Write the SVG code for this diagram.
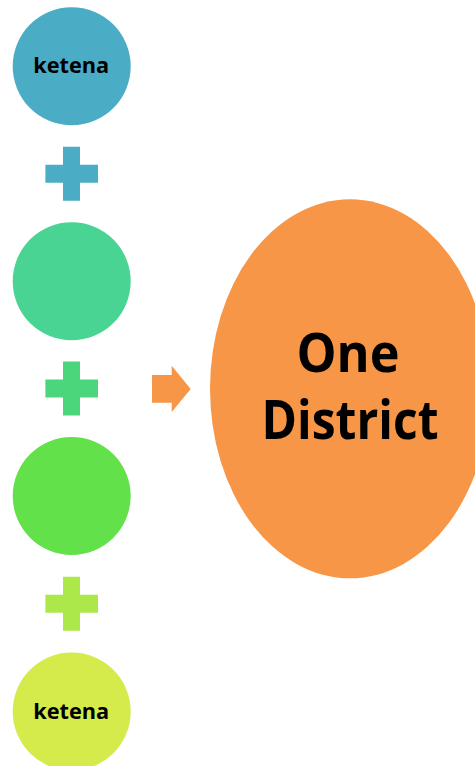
<svg xmlns="http://www.w3.org/2000/svg" width="475" height="766" viewBox="0 0 475 766">
<style>
.lbl{font-family:"Open Sans","Liberation Sans",sans-serif;font-weight:bold;fill:#000;text-anchor:middle}
.small{font-size:21px}
.big{font-size:54px}
</style>
<defs>
<path id="plus" d="M-8.7,-27 H8.3 V-9 H26.3 V9 H8.3 V27 H-8.7 V9 H-26.3 V-9 H-8.7 Z"/>
</defs>
<rect width="475" height="766" fill="#fff"/>
<g id="node-ketena-top">
<circle cx="71.7" cy="66.3" r="59" fill="#4BACC6"/>
<text class="lbl small" x="71.2" y="73.3" textLength="76" lengthAdjust="spacingAndGlyphs">ketena</text>
</g>
<g id="plus-1"><use href="#plus" x="71.7" y="173.7" fill="#4BACC6"/></g>
<g id="node-circle-2"><circle cx="71.7" cy="281.3" r="59" fill="#4AD494"/></g>
<g id="plus-2"><use href="#plus" x="71.7" y="388.6" fill="#4BD67B"/></g>
<g id="node-circle-3"><circle cx="71.7" cy="496" r="59" fill="#62E14A"/></g>
<g id="plus-3"><use href="#plus" x="71.7" y="603.7" fill="#ADE84B"/></g>
<g id="node-ketena-bottom">
<circle cx="71.7" cy="711.5" r="59" fill="#D4EB4B"/>
<text class="lbl small" x="71.2" y="718.5" textLength="76" lengthAdjust="spacingAndGlyphs">ketena</text>
</g>
<g id="connectors">
<path d="M152,375 H171.7 V365.7 L190.7,389 L171.7,412 V402.7 H152 Z" fill="#F79646"/>
</g>
<g id="node-one-district">
<ellipse cx="350" cy="388.8" rx="140" ry="189.5" fill="#F79646"/>
<text class="lbl big" x="348" y="371.7" textLength="103" lengthAdjust="spacingAndGlyphs">One</text>
<text class="lbl big" x="350" y="439.3" textLength="177" lengthAdjust="spacingAndGlyphs">District</text>
</g>
</svg>
